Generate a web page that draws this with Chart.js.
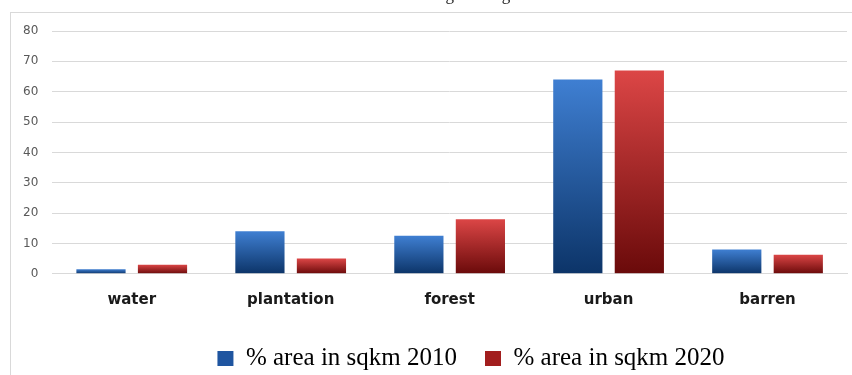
<!DOCTYPE html>
<html>
<head>
<meta charset="utf-8">
<script src="https://cdn.jsdelivr.net/npm/chart.js@4"></script>
<style>
  html, body { margin: 0; padding: 0; background: #fff; }
  #wrap { width: 852px; height: 375px; position: relative; }
</style>
</head>
<body>
<div id="wrap"><canvas id="lulcChart"></canvas></div>
<script>
const categories = ["water", "plantation", "forest", "urban", "barren"];
const area2010 = [1.5, 14, 12.5, 64, 8];
const area2020 = [3, 5, 18, 67, 6.3];
const yTicks = [0, 10, 20, 30, 40, 50, 60, 70, 80];
const chartTitle = "Column Chart for the Percentage Change in LULC Classes";

// vertical gradient per bar, light at top, dark at the base
function barFill(light, dark, flat) {
  return function (c) {
    const chart = c.chart;
    if (!chart.chartArea || c.type !== "data") return flat;
    const y = chart.scales.y;
    const top = y.getPixelForValue(c.raw);
    const bottom = y.getPixelForValue(0);
    if (!isFinite(top) || bottom - top < 1) return flat;
    const g = chart.ctx.createLinearGradient(0, top, 0, bottom);
    g.addColorStop(0, light);
    g.addColorStop(1, dark);
    return g;
  };
}

const frame = {
  id: "frame",
  afterLayout(chart) {
    // legend sits a bit right of centre in the original
    if (chart.legend) {
      chart.legend.left += 43;
      chart.legend.right += 43;
    }
  },
  beforeDraw(chart) {
    const ctx = chart.ctx;
    ctx.save();
    ctx.strokeStyle = "#d9d9d9";
    ctx.lineWidth = 1;
    ctx.strokeRect(10.5, 12.5, 900, 400);
    ctx.fillStyle = "#222";
    ctx.font = "17px 'Liberation Serif'";
    ctx.textAlign = "center";
    ctx.textBaseline = "alphabetic";
    ctx.fillText(chartTitle, 438, 0);
    ctx.restore();
  }
};

const ctx = document.getElementById("lulcChart").getContext("2d");

new Chart(ctx, {
  type: "bar",
  data: {
    labels: categories,
    datasets: [{
      label: "% area in sqkm 2010",
      data: area2010,
      backgroundColor: barFill("#3f7fd2", "#0c3468", "#245aa0"),
      categoryPercentage: 0.774,
      barPercentage: 0.8
    }, {
      label: "% area in sqkm 2020",
      data: area2020,
      backgroundColor: barFill("#dc4646", "#6a0a0a", "#a82222"),
      categoryPercentage: 0.774,
      barPercentage: 0.8
    }]
  },
  options: {
    responsive: true,
    maintainAspectRatio: false,
    animation: false,
    layout: {
      padding: { top: 31, left: 9, right: 5, bottom: -6 }
    },
    scales: {
      x: {
        grid: { display: false },
        border: { display: true, color: "#d9d9d9" },
        ticks: {
          color: "#1a1a1a",
          padding: 11,
          font: { size: 15, weight: "bold", family: "DejaVu Sans", lineHeight: 0.95 }
        }
      },
      y: {
        min: 0,
        max: 80,
        afterBuildTicks(axis) {
          axis.ticks = yTicks.map(v => ({ value: v }));
        },
        border: { display: false },
        grid: { color: "#d9d9d9", drawTicks: false },
        ticks: {
          color: "#595959",
          padding: 14,
          font: { size: 12, family: "DejaVu Sans" }
        }
      }
    },
    plugins: {
      legend: {
        position: "bottom",
        labels: {
          color: "#222",
          boxWidth: 16,
          boxHeight: 15,
          padding: 28,
          font: { size: 25, family: "Liberation Serif", lineHeight: 0.68 },
          generateLabels(chart) {
            const solid = ["#1f55a0", "#a21e1e"];
            return chart.data.datasets.map((ds, i) => ({
              text: ds.label,
              fillStyle: solid[i],
              strokeStyle: solid[i],
              lineWidth: 0,
              hidden: false,
              datasetIndex: i
            }));
          }
        }
      },
      tooltip: { enabled: false },
      title: { display: false }
    }
  },
  plugins: [frame]
});
</script>
</body>
</html>
